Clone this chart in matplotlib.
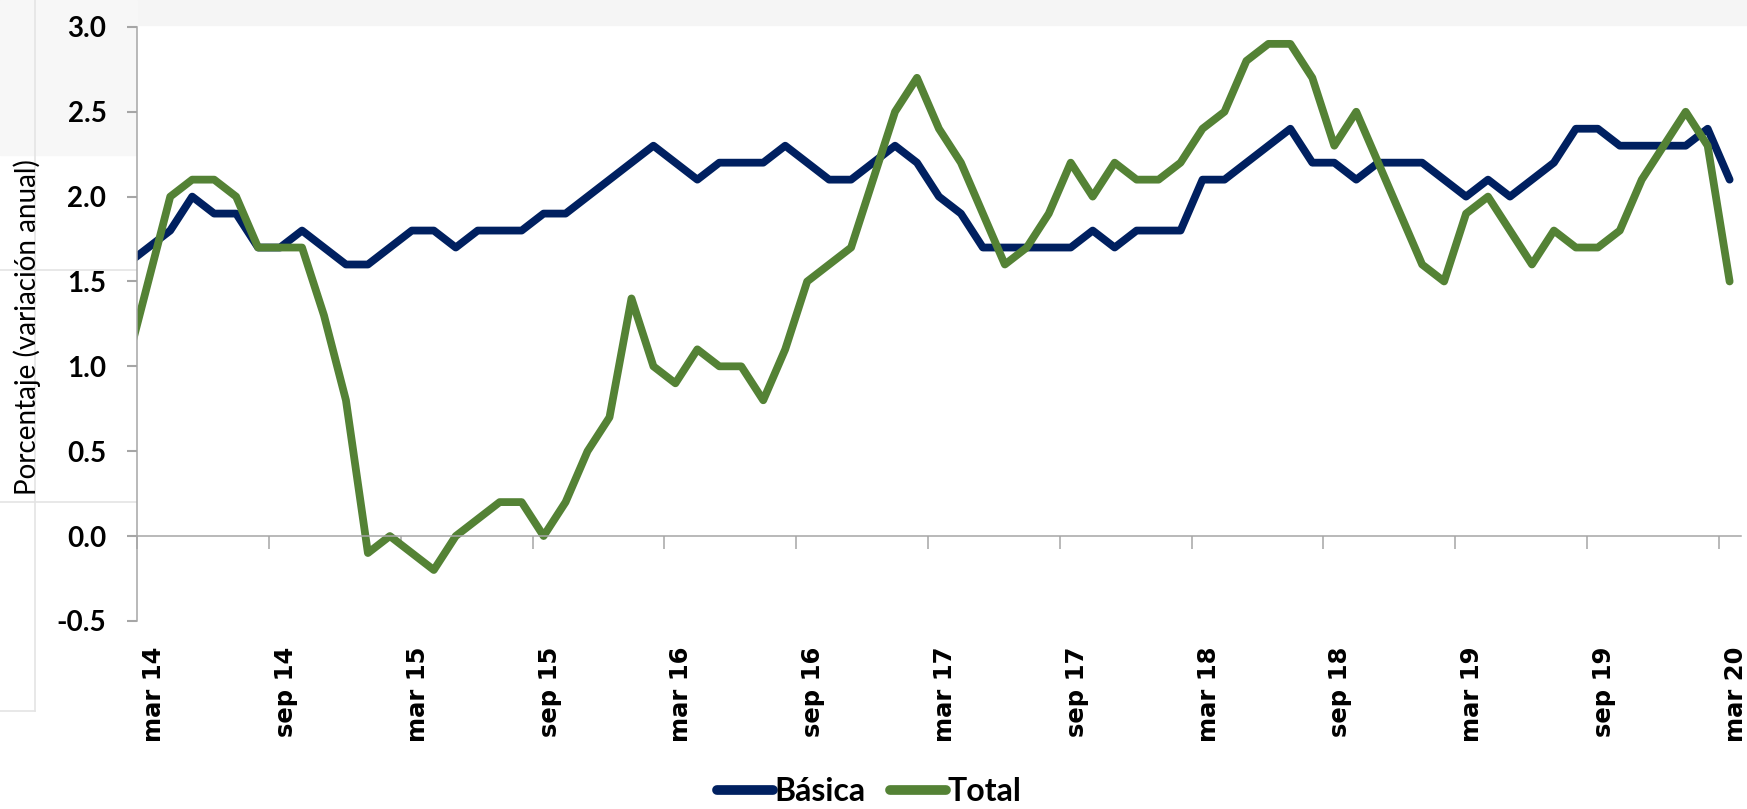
import numpy as np
import matplotlib.pyplot as plt
from matplotlib.patches import Rectangle
from matplotlib.lines import Line2D
from matplotlib.transforms import ScaledTranslation

plt.rcParams['axes.unicode_minus'] = False

# Data (monthly, feb 14 .. mar 20; feb 14 only shows as the clipped stub at the axis)
month_idx = np.arange(-1, 73)
basica = [1.6, 1.7, 1.8, 2.0, 1.9, 1.9, 1.7, 1.7, 1.8, 1.7, 1.6, 1.6, 1.7,
          1.8, 1.8, 1.7, 1.8, 1.8, 1.8, 1.9, 1.9, 2.0, 2.1, 2.2, 2.3, 2.2,
          2.1, 2.2, 2.2, 2.2, 2.3, 2.2, 2.1, 2.1, 2.2, 2.3, 2.2, 2.0, 1.9,
          1.7, 1.7, 1.7, 1.7, 1.7, 1.8, 1.7, 1.8, 1.8, 1.8, 2.1, 2.1, 2.2,
          2.3, 2.4, 2.2, 2.2, 2.1, 2.2, 2.2, 2.2, 2.1, 2.0, 2.1, 2.0, 2.1,
          2.2, 2.4, 2.4, 2.3, 2.3, 2.3, 2.3, 2.4, 2.1]
total = [1.0, 1.5, 2.0, 2.1, 2.1, 2.0, 1.7, 1.7, 1.7, 1.3, 0.8, -0.1, 0.0,
         -0.1, -0.2, 0.0, 0.1, 0.2, 0.2, 0.0, 0.2, 0.5, 0.7, 1.4, 1.0, 0.9,
         1.1, 1.0, 1.0, 0.8, 1.1, 1.5, 1.6, 1.7, 2.1, 2.5, 2.7, 2.4, 2.2,
         1.9, 1.6, 1.7, 1.9, 2.2, 2.0, 2.2, 2.1, 2.1, 2.2, 2.4, 2.5, 2.8,
         2.9, 2.9, 2.7, 2.3, 2.5, 2.2, 1.9, 1.6, 1.5, 1.9, 2.0, 1.8, 1.6,
         1.8, 1.7, 1.7, 1.8, 2.1, 2.3, 2.5, 2.3, 1.5]
tick_labels = ['mar 14', 'sep 14', 'mar 15', 'sep 15', 'mar 16', 'sep 16', 'mar 17',
               'sep 17', 'mar 18', 'sep 18', 'mar 19', 'sep 19', 'mar 20']
y_ticks = [-0.5, 0.0, 0.5, 1.0, 1.5, 2.0, 2.5, 3.0]

blue = '#002060'
green = '#548235'
grey = '#a6a6a6'
lato = ['Lato', 'DejaVu Sans']

fig = plt.figure(figsize=(17.47, 8.09), dpi=100)

# light screenshot remnants around the chart
fig.add_artist(Rectangle((0, 1 - 25 / 809), 1, 25 / 809, transform=fig.transFigure,
                         color='#f5f5f5', zorder=0))
fig.add_artist(Rectangle((0, 1 - 155 / 809), 137 / 1747, 155 / 809, transform=fig.transFigure,
                         color='#f7f7f7', zorder=0))
for (x0, x1, y0, y1) in [(35, 35, 0, 711), (0, 137, 270, 270), (0, 137, 502, 502), (0, 35, 711, 711)]:
    fig.add_artist(Line2D([x0 / 1747, x1 / 1747], [1 - y0 / 809, 1 - y1 / 809],
                          transform=fig.transFigure, color='#e4e4e4', lw=1.2, zorder=0))

ax = fig.add_axes([137.3 / 1747, 1 - 620.9 / 809, (1740.6 - 137.3) / 1747, 594 / 809])
ax.set_facecolor('white')
ax.set_zorder(1)

ax.plot(month_idx, basica, color=blue, lw=5.6, label='Básica',
        solid_joinstyle='round', solid_capstyle='round')
ax.plot(month_idx, total, color=green, lw=5.6, label='Total',
        solid_joinstyle='round', solid_capstyle='round')

ax.set_xlim(-0.5, 72.5)
ax.set_ylim(-0.5, 3.0)

for s in ['top', 'right']:
    ax.spines[s].set_visible(False)
ax.spines['left'].set_color(grey)
ax.spines['left'].set_linewidth(1.1)
ax.spines['bottom'].set_position(('data', 0))
ax.spines['bottom'].set_color(grey)
ax.spines['bottom'].set_linewidth(1.1)

ax.set_yticks(y_ticks)
ax.set_yticklabels(['%.1f' % v for v in y_ticks], family=lato, fontweight='bold', fontsize=20)
ax.tick_params(axis='y', length=7.2, width=1.5, color=grey, pad=15)

ax.set_xticks(np.arange(-0.5, 72, 6))
ax.tick_params(axis='x', length=9.5, width=1.1, color=grey, labelbottom=False)

# category labels sit at the bottom of the plot, below the zero line
sec = ax.secondary_xaxis('bottom')
sec.set_xticks(np.arange(0, 73, 6), labels=tick_labels, rotation=90, ha='center', va='top',
               fontweight='bold', fontsize=17.5, family='DejaVu Sans')
sec.tick_params(length=0, pad=18.5)
sec.spines['bottom'].set_visible(False)
shift = ScaledTranslation(6 / 100, 0, fig.dpi_scale_trans)
for lab in sec.get_xticklabels():
    lab.set_transform(lab.get_transform() + shift)

fig.text(27 / 1747, 1 - 327 / 809, 'Porcentaje (variación anual)', rotation=90,
         ha='center', va='center', fontsize=20, family=lato)

leg = fig.legend(loc='center', bbox_to_anchor=(869 / 1747, 17.3 / 809), ncol=2, frameon=False,
                 handlelength=1.75, handletextpad=0.05, columnspacing=0.75,
                 prop={'family': lato, 'weight': 'bold', 'size': 23})
for h in leg.get_lines():
    h.set_linewidth(7)

plt.savefig('out.png', dpi=100)
